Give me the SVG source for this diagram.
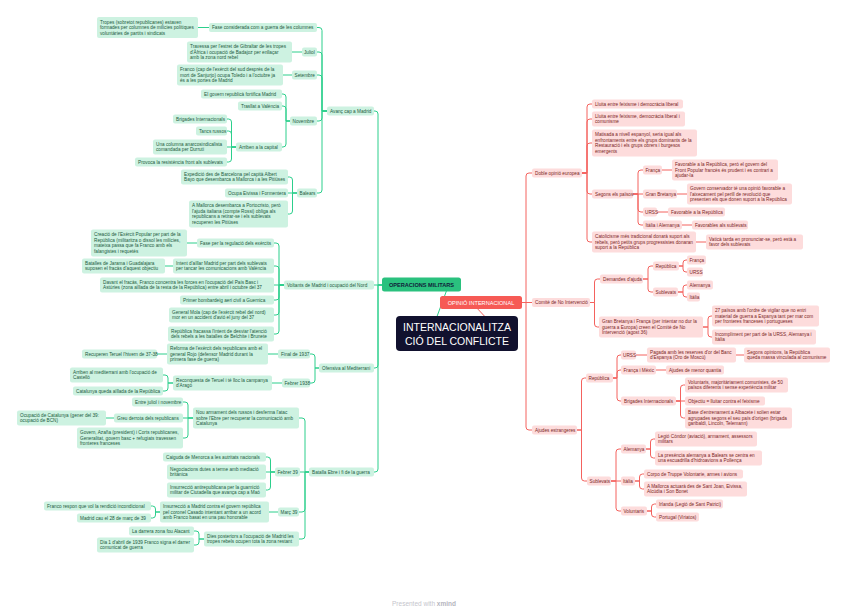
<svg xmlns="http://www.w3.org/2000/svg" width="848" height="615" viewBox="0 0 848 615">
<style>
text{font-family:"Liberation Sans",Arial,sans-serif;font-size:4.7px}
.g rect{fill:#cdf2e1}
.g text{fill:#1c5a3e}
.r rect{fill:#fddcdc}
.r text{fill:#7b2525}
.cg path{fill:none;stroke:#2ccf8c;stroke-width:1}
.cr path{fill:none;stroke:#f4625e;stroke-width:1}
</style>
<rect width="848" height="615" fill="#ffffff"/>
<g id="connectors">
<g class="cg">
<path d="M432 330 L449 284"/>
<path d="M382 285 H378 V114 Q378 111 375 111 H374"/>
<path d="M382 285 H374"/>
<path d="M382 285 H378 V365 Q378 368 375 368 H374"/>
<path d="M382 285 H378 V469 Q378 472 375 472 H374"/>
<path d="M327 111 H322 V30.5 Q322 27.5 319 27.5 H317"/>
<path d="M327 111 H322 V55 Q322 52 319 52 H317"/>
<path d="M327 111 H322 V78 Q322 75 319 75 H317"/>
<path d="M327 111 H322 V118 Q322 121 319 121 H317"/>
<path d="M327 111 H322 V190 Q322 193 319 193 H317"/>
<path d="M209 27.5 H198"/>
<path d="M302 52 H292"/>
<path d="M292 75 H283"/>
<path d="M290 121 H286 V97 Q286 94 283 94 H282"/>
<path d="M290 121 H286 V109 Q286 106 283 106 H282"/>
<path d="M290 121 H286 V144 Q286 147 283 147 H282"/>
<path d="M236 147 H231.5 V122 Q231.5 119 228.5 119 H227"/>
<path d="M236 147 H231.5 V134 Q231.5 131 228.5 131 H227"/>
<path d="M236 147 H227"/>
<path d="M236 147 H231.5 V159 Q231.5 162 228.5 162 H227"/>
<path d="M297 193 H292.5 V180 Q292.5 177 289.5 177 H288"/>
<path d="M297 193 H288"/>
<path d="M297 193 H292.5 V211 Q292.5 214 289.5 214 H288"/>
<path d="M284 285 H279 V246 Q279 243 276 243 H274"/>
<path d="M284 285 H279 V269 Q279 266 276 266 H274"/>
<path d="M284 285 H274"/>
<path d="M284 285 H279 V297 Q279 300 276 300 H274"/>
<path d="M284 285 H279 V312 Q279 315 276 315 H274"/>
<path d="M284 285 H279 V331 Q279 334 276 334 H274"/>
<path d="M197 243 H187"/>
<path d="M173 266 H165"/>
<path d="M319 368 H315 V357 Q315 354 312 354 H310"/>
<path d="M319 368 H315 V380 Q315 383 312 383 H310"/>
<path d="M278 354 H268"/>
<path d="M167 354 H157"/>
<path d="M282 383 H272"/>
<path d="M173 383 H168 V378 Q168 375 165 375 H163"/>
<path d="M173 383 H168 V388 Q168 391 165 391 H163"/>
<path d="M309 472 H305 V421 Q305 418 302 418 H299"/>
<path d="M309 472 H300"/>
<path d="M309 472 H305 V509 Q305 512 302 512 H299"/>
<path d="M309 472 H305 V536 Q305 539 302 539 H299"/>
<path d="M193 418 H188 V405 Q188 402 185 402 H183"/>
<path d="M193 418 H183"/>
<path d="M193 418 H188 V435 Q188 438 185 438 H183"/>
<path d="M114 418 H106"/>
<path d="M275 472 H270.5 V460 Q270.5 457 267.5 457 H266"/>
<path d="M275 472 H266"/>
<path d="M275 472 H270.5 V487 Q270.5 490 267.5 490 H266"/>
<path d="M278 512 H269"/>
<path d="M160 512 H155.5 V509 Q155.5 506 152.5 506 H151"/>
<path d="M160 512 H155.5 V515 Q155.5 518 152.5 518 H151"/>
<path d="M204 539 H199 V534 Q199 531 196 531 H194"/>
<path d="M204 539 H199 V542 Q199 545 196 545 H194"/>
</g>
<g class="cr">
<path d="M490 322 L474 305"/>
<path d="M522 302.5 H526 V176 Q526 173 529 173 H532"/>
<path d="M522 302.5 H532"/>
<path d="M522 302.5 H526 V427 Q526 430 529 430 H532"/>
<path d="M582 173 H587 V107 Q587 104 590 104 H592"/>
<path d="M582 173 H587 V122 Q587 119 590 119 H592"/>
<path d="M582 173 H587 V146 Q587 143 590 143 H592"/>
<path d="M582 173 H587 V191 Q587 194 590 194 H592"/>
<path d="M582 173 H587 V239 Q587 242 590 242 H592"/>
<path d="M633 194 H638 V173 Q638 170 641 170 H643"/>
<path d="M633 194 H643"/>
<path d="M633 194 H638 V209 Q638 212 641 212 H643"/>
<path d="M633 194 H638 V222 Q638 225 641 225 H643"/>
<path d="M662 170 H672"/>
<path d="M677 194 H687"/>
<path d="M657 212 H668"/>
<path d="M682 225 H692"/>
<path d="M696 242 H706"/>
<path d="M590 302.5 H594.5 V282 Q594.5 279 597.5 279 H600"/>
<path d="M590 302.5 H594.5 V324 Q594.5 327 597.5 327 H599"/>
<path d="M643 279 H648 V269 Q648 266 651 266 H653"/>
<path d="M643 279 H648 V289 Q648 292 651 292 H653"/>
<path d="M679 266 H683 V263 Q683 260 686 260 H687"/>
<path d="M679 266 H683 V269 Q683 272 686 272 H687"/>
<path d="M678 292 H683 V288 Q683 285 686 285 H687"/>
<path d="M678 292 H683 V294 Q683 297 686 297 H687"/>
<path d="M703 327 H708 V319 Q708 316 711 316 H712"/>
<path d="M703 327 H708 V334 Q708 337 711 337 H712"/>
<path d="M577 430 H581.5 V381 Q581.5 378 584.5 378 H586"/>
<path d="M577 430 H581.5 V478 Q581.5 481 584.5 481 H587"/>
<path d="M613 378 H617 V358 Q617 355 620 355 H621"/>
<path d="M613 378 H617 V373 Q617 370 620 370 H621"/>
<path d="M613 378 H617 V398 Q617 401 620 401 H621"/>
<path d="M636 355 H647"/>
<path d="M736 355 H744"/>
<path d="M656 370 H666"/>
<path d="M676 401 H680.5 V388 Q680.5 385 683.5 385 H685"/>
<path d="M676 401 H685"/>
<path d="M676 401 H680.5 V415 Q680.5 418 683.5 418 H685"/>
<path d="M611 481 H616 V452 Q616 449 619 449 H621"/>
<path d="M611 481 H621"/>
<path d="M611 481 H616 V508 Q616 511 619 511 H621"/>
<path d="M646 449 H650.5 V442 Q650.5 439 653.5 439 H655"/>
<path d="M646 449 H650.5 V455 Q650.5 458 653.5 458 H655"/>
<path d="M635 481 H639.5 V477 Q639.5 474 642.5 474 H644"/>
<path d="M635 481 H639.5 V486 Q639.5 489 642.5 489 H644"/>
<path d="M647 511 H651.5 V507 Q651.5 504 654.5 504 H656"/>
<path d="M647 511 H651.5 V514 Q651.5 517 654.5 517 H656"/>
</g>
</g>

<g id="root">
<rect x="396" y="316" width="122" height="35" rx="4" fill="#11112e"/>
<text x="457" y="331" text-anchor="middle" fill="#ffffff" style="font-size:10.5px">INTERNACIONALITZA</text>
<text x="457" y="344.5" text-anchor="middle" fill="#ffffff" style="font-size:10.5px">CIÓ DEL CONFLICTE</text>
</g>
<g id="operacions">
<rect x="382" y="277.5" width="79" height="14" rx="2.5" fill="#2ac17e"/>
<text x="421.5" y="286.8" text-anchor="middle" fill="#10213a" style="font-size:5.6px;font-weight:bold">OPERACIONS MILITARS</text>
</g>
<g id="opinio">
<rect x="440" y="296" width="82" height="13" rx="2.5" fill="#f65a55"/>
<text x="481" y="304.6" text-anchor="middle" fill="#ffffff" style="font-size:5.6px">OPINIÓ INTERNACIONAL</text>
</g>

<g id="g1" class="g"><rect x="327" y="106.5" width="47" height="9" rx="2"/><text x="330" y="112.6">Avanç cap a Madrid</text></g>
<g id="g2" class="g"><rect x="284" y="280.5" width="90" height="9" rx="2"/><text x="287" y="286.6">Voltants de Madrid i ocupació del Nord</text></g>
<g id="g3" class="g"><rect x="319" y="363.5" width="55" height="9" rx="2"/><text x="322" y="369.6">Ofensiva al Mediterrani</text></g>
<g id="g4" class="g"><rect x="309" y="467.5" width="65" height="9" rx="2"/><text x="312" y="473.6">Batalla Ebre i fi de la guerra</text></g>
<g id="g5" class="g"><rect x="209" y="23" width="108" height="9" rx="2"/><text x="212" y="29.1">Fase considerada com a guerra de les columnes</text></g>
<g id="g6" class="g"><rect x="97" y="17" width="101" height="21" rx="2"/><text x="100" y="23.5">Tropes (sobretot republicanes) estaven<tspan x="100" dy="5.6">formades per columnes de milícies polítiques</tspan><tspan x="100" dy="5.6">voluntàries de partits i sindicats</tspan></text></g>
<g id="g7" class="g"><rect x="302" y="47.5" width="15" height="9" rx="2"/><text x="304" y="53.6">Juliol</text></g>
<g id="g8" class="g"><rect x="187" y="41.5" width="105" height="21" rx="2"/><text x="190" y="48">Travessa per l'estret de Gibraltar de les tropes<tspan x="190" dy="5.6">d'Àfrica i ocupació de Badajoz per enllaçar</tspan><tspan x="190" dy="5.6">amb la zona nord rebel</tspan></text></g>
<g id="g9" class="g"><rect x="292" y="70.5" width="25" height="9" rx="2"/><text x="294.5" y="76.6">Setembre</text></g>
<g id="g10" class="g"><rect x="177" y="64.5" width="106" height="21" rx="2"/><text x="180" y="71">Franco (cap de l'exèrcit del sud després de la<tspan x="180" dy="5.6">mort de Sanjurjo) ocupa Toledo i a l'octubre ja</tspan><tspan x="180" dy="5.6">és a les portes de Madrid</tspan></text></g>
<g id="g11" class="g"><rect x="290" y="116.5" width="27" height="9" rx="2"/><text x="292.5" y="122.6">Novembre</text></g>
<g id="g12" class="g"><rect x="201" y="89.5" width="81" height="9" rx="2"/><text x="204" y="95.6">El govern republicà fortifica Madrid</text></g>
<g id="g13" class="g"><rect x="238" y="101.5" width="44" height="9" rx="2"/><text x="241" y="107.6">Trasllat a València</text></g>
<g id="g14" class="g"><rect x="236" y="142.5" width="46" height="9" rx="2"/><text x="239" y="148.6">Arriben a la capital</text></g>
<g id="g15" class="g"><rect x="173" y="114.5" width="54" height="9" rx="2"/><text x="176" y="120.6">Brigades Internacionals</text></g>
<g id="g16" class="g"><rect x="196" y="126.5" width="31" height="9" rx="2"/><text x="199" y="132.6">Tancs russos</text></g>
<g id="g17" class="g"><rect x="153" y="139.5" width="74" height="15" rx="2"/><text x="156" y="145.8">Una columna anarcosindicalista<tspan x="156" dy="5.6">comandada per Durruti</tspan></text></g>
<g id="g18" class="g"><rect x="135" y="157.5" width="92" height="9" rx="2"/><text x="138" y="163.6">Provoca la resistència front als sublevats</text></g>
<g id="g19" class="g"><rect x="297" y="188.5" width="20" height="9" rx="2"/><text x="299.5" y="194.6">Balears</text></g>
<g id="g20" class="g"><rect x="181" y="169.5" width="107" height="15" rx="2"/><text x="184" y="175.8">Expedició des de Barcelona pel capità Albert<tspan x="184" dy="5.6">Bayo que desembarca a Mallorca i a les Pitiüses</tspan></text></g>
<g id="g21" class="g"><rect x="225" y="188.5" width="63" height="9" rx="2"/><text x="228" y="194.6">Ocupa Eivissa i Formentera</text></g>
<g id="g22" class="g"><rect x="189" y="200.5" width="99" height="27" rx="2"/><text x="192" y="207.2">A Mallorca desembarca a Portocristo, però<tspan x="192" dy="5.6">l'ajuda italiana (compte Rossi) obliga als</tspan><tspan x="192" dy="5.6">republicans a retirar-se i els sublevats</tspan><tspan x="192" dy="5.6">recuperen les Pitiüses</tspan></text></g>
<g id="g23" class="g"><rect x="197" y="238.5" width="77" height="9" rx="2"/><text x="200" y="244.6">Fase per la regulació dels exèrcits</text></g>
<g id="g24" class="g"><rect x="91" y="229.5" width="96" height="27" rx="2"/><text x="94" y="236.2">Creació de l'Exèrcit Popular per part de la<tspan x="94" dy="5.6">República (militaritza o dissol les milícies,</tspan><tspan x="94" dy="5.6">mateixa passa que fa Franco amb els</tspan><tspan x="94" dy="5.6">falangistes i requetès</tspan></text></g>
<g id="g25" class="g"><rect x="173" y="258.5" width="101" height="15" rx="2"/><text x="176" y="264.8">Intent d'aïllar Madrid per part dels sublevats<tspan x="176" dy="5.6">per tancar les comunicacions amb València</tspan></text></g>
<g id="g26" class="g"><rect x="82" y="258.5" width="83" height="15" rx="2"/><text x="85" y="264.8">Batalles de Jarama i Guadalajara<tspan x="85" dy="5.6">suposen el fracàs d'aquest objectiu</tspan></text></g>
<g id="g27" class="g"><rect x="100" y="277.5" width="174" height="15" rx="2"/><text x="103" y="283.8">Davant el fracàs, Franco concentra les forces en l'ocupació del País Basc i<tspan x="103" dy="5.6">Astúries (zona aïllada de la resta de la República) entre abril i octubre del 37</tspan></text></g>
<g id="g28" class="g"><rect x="180" y="295.5" width="94" height="9" rx="2"/><text x="183" y="301.6">Primer bombardeig aeri civil a Guernica</text></g>
<g id="g29" class="g"><rect x="169" y="307.5" width="105" height="15" rx="2"/><text x="172" y="313.8">General Mola (cap de l'exèrcit rebel del nord)<tspan x="172" dy="5.6">mor en un accident d'avió el juny del 37</tspan></text></g>
<g id="g30" class="g"><rect x="168" y="326.5" width="106" height="15" rx="2"/><text x="171" y="332.8">República fracassa l'intent de desviar l'atenció<tspan x="171" dy="5.6">dels rebels a les batalles de Belchite i Brunete</tspan></text></g>
<g id="g31" class="g"><rect x="278" y="349.5" width="32" height="9" rx="2"/><text x="281" y="355.6">Final de 1937</text></g>
<g id="g32" class="g"><rect x="167" y="343.5" width="101" height="21" rx="2"/><text x="170" y="350">Reforma de l'exèrcit dels republicans amb el<tspan x="170" dy="5.6">general Rojo (defensor Madrid durant la</tspan><tspan x="170" dy="5.6">primera fase de guerra)</tspan></text></g>
<g id="g33" class="g"><rect x="82" y="349.5" width="75" height="9" rx="2"/><text x="85" y="355.6">Recuperen Teruel l'hivern de 37-38</text></g>
<g id="g34" class="g"><rect x="282" y="378.5" width="28" height="9" rx="2"/><text x="284.5" y="384.6">Febrer 1938</text></g>
<g id="g35" class="g"><rect x="173" y="375.5" width="99" height="15" rx="2"/><text x="176" y="381.8">Reconquesta de Teruel i té lloc la campanya<tspan x="176" dy="5.6">d'Aragó</tspan></text></g>
<g id="g36" class="g"><rect x="70" y="367.5" width="93" height="15" rx="2"/><text x="73" y="373.8">Arriben al mediterrani amb l'ocupació de<tspan x="73" dy="5.6">Castelló</tspan></text></g>
<g id="g37" class="g"><rect x="73" y="386.5" width="90" height="9" rx="2"/><text x="76" y="392.6">Catalunya queda aïllada de la República</text></g>
<g id="g38" class="g"><rect x="193" y="407.5" width="106" height="21" rx="2"/><text x="196" y="414">Nou armament dels russos i desferma l'atac<tspan x="196" dy="5.6">sobre l'Ebre per recuperar la comunicació amb</tspan><tspan x="196" dy="5.6">Catalunya</tspan></text></g>
<g id="g39" class="g"><rect x="132" y="397.5" width="51" height="9" rx="2"/><text x="135" y="403.6">Entre juliol i novembre</text></g>
<g id="g40" class="g"><rect x="114" y="413.5" width="69" height="9" rx="2"/><text x="117" y="419.6">Greu derrota dels republicans</text></g>
<g id="g41" class="g"><rect x="17" y="410.5" width="89" height="15" rx="2"/><text x="20" y="416.8">Ocupació de Catalunya (gener del 39:<tspan x="20" dy="5.6">ocupació de BCN)</tspan></text></g>
<g id="g42" class="g"><rect x="77" y="427.5" width="106" height="21" rx="2"/><text x="80" y="434">Govern, Azaña (president) i Corts republicanes,<tspan x="80" dy="5.6">Generalitat, govern basc + refugiats travessen</tspan><tspan x="80" dy="5.6">fronteres franceses</tspan></text></g>
<g id="g43" class="g"><rect x="275" y="467.5" width="25" height="9" rx="2"/><text x="277.5" y="473.6">Febrer 39</text></g>
<g id="g44" class="g"><rect x="163" y="452.5" width="103" height="9" rx="2"/><text x="166" y="458.6">Caiguda de Menorca a les autritats nacionals</text></g>
<g id="g45" class="g"><rect x="167" y="464.5" width="99" height="15" rx="2"/><text x="170" y="470.8">Negociacions dutes a terme amb mediació<tspan x="170" dy="5.6">britànica</tspan></text></g>
<g id="g46" class="g"><rect x="167" y="482.5" width="99" height="15" rx="2"/><text x="170" y="488.8">Insurrecció antirepublicana per la guarnició<tspan x="170" dy="5.6">militar de Ciutadella que avança cap a Maó</tspan></text></g>
<g id="g47" class="g"><rect x="278" y="507.5" width="21" height="9" rx="2"/><text x="280.5" y="513.6">Març 39</text></g>
<g id="g48" class="g"><rect x="160" y="501.5" width="109" height="21" rx="2"/><text x="163" y="508">Insurrecció a Madrid contra el govern república<tspan x="163" dy="5.6">pel coronel Casado intentant arribar a un acord</tspan><tspan x="163" dy="5.6">amb Franco basat en una pau honorable</tspan></text></g>
<g id="g49" class="g"><rect x="44" y="501.5" width="107" height="9" rx="2"/><text x="47" y="507.6">Franco respon que vol la rendició incondicional</text></g>
<g id="g50" class="g"><rect x="77" y="513.5" width="74" height="9" rx="2"/><text x="80" y="519.6">Madrid cau el 28 de març de 39</text></g>
<g id="g51" class="g"><rect x="204" y="531.5" width="95" height="15" rx="2"/><text x="207" y="537.8">Dies posteriors a l'ocupació de Madrid les<tspan x="207" dy="5.6">tropes rebels ocupen tota la zona restant</tspan></text></g>
<g id="g52" class="g"><rect x="129" y="526.5" width="65" height="9" rx="2"/><text x="132" y="532.6">La darrera zona fou Alacant</text></g>
<g id="g53" class="g"><rect x="97" y="537.5" width="97" height="15" rx="2"/><text x="100" y="543.8">Dia 1 d'abril de 1939 Franco signa el darrer<tspan x="100" dy="5.6">comunicat de guerra</tspan></text></g>

<g id="r1" class="r"><rect x="532" y="168.5" width="50" height="9" rx="2"/><text x="535" y="174.6">Doble opinió europea</text></g>
<g id="r2" class="r"><rect x="532" y="298" width="58" height="9" rx="2"/><text x="535" y="304.1">Comitè de No Intervenció</text></g>
<g id="r3" class="r"><rect x="532" y="425.5" width="45" height="9" rx="2"/><text x="535" y="431.6">Ajudes estrangeres</text></g>
<g id="r4" class="r"><rect x="592" y="99.5" width="91" height="9" rx="2"/><text x="595" y="105.6">Lluita entre feixisme i democràcia liberal</text></g>
<g id="r5" class="r"><rect x="592" y="111.5" width="93" height="15" rx="2"/><text x="595" y="117.8">Lluita entre feixisme, democràcia liberal i<tspan x="595" dy="5.6">comunisme</tspan></text></g>
<g id="r6" class="r"><rect x="592" y="129.5" width="105" height="27" rx="2"/><text x="595" y="136.2">Matisada a nivell espanyol, seria igual als<tspan x="595" dy="5.6">enfrontaments entre els grups dominants de la</tspan><tspan x="595" dy="5.6">Restauració i els grups obrers i burgesos</tspan><tspan x="595" dy="5.6">emergents</tspan></text></g>
<g id="r7" class="r"><rect x="592" y="189.5" width="41" height="9" rx="2"/><text x="595" y="195.6">Segons els països</text></g>
<g id="r8" class="r"><rect x="643" y="165.5" width="19" height="9" rx="2"/><text x="645.5" y="171.6">França</text></g>
<g id="r9" class="r"><rect x="672" y="159.5" width="106" height="21" rx="2"/><text x="675" y="166">Favorable a la República, però el govern del<tspan x="675" dy="5.6">Front Popular francès és prudent i es contrari a</tspan><tspan x="675" dy="5.6">ajudar-la</tspan></text></g>
<g id="r10" class="r"><rect x="643" y="189.5" width="34" height="9" rx="2"/><text x="645.5" y="195.6">Gran Bretanya</text></g>
<g id="r11" class="r"><rect x="687" y="183.5" width="105" height="21" rx="2"/><text x="690" y="190">Govern conservador té una opinió favorable a<tspan x="690" dy="5.6">l'aixecament pel perill de revolució que</tspan><tspan x="690" dy="5.6">presenten els que donen suport a la República</tspan></text></g>
<g id="r12" class="r"><rect x="643" y="207.5" width="14" height="9" rx="2"/><text x="645" y="213.6">URSS</text></g>
<g id="r13" class="r"><rect x="668" y="207.5" width="57" height="9" rx="2"/><text x="671" y="213.6">Favorable a la República</text></g>
<g id="r14" class="r"><rect x="643" y="220.5" width="39" height="9" rx="2"/><text x="645.5" y="226.6">Itàlia i Alemanya</text></g>
<g id="r15" class="r"><rect x="692" y="220.5" width="56" height="9" rx="2"/><text x="695" y="226.6">Favorables als sublevats</text></g>
<g id="r16" class="r"><rect x="592" y="231.5" width="104" height="21" rx="2"/><text x="595" y="238">Catolicisme més tradicional donarà suport als<tspan x="595" dy="5.6">rebels, però petits grups progressistes donaran</tspan><tspan x="595" dy="5.6">suport a la República</tspan></text></g>
<g id="r17" class="r"><rect x="706" y="234.5" width="97" height="15" rx="2"/><text x="709" y="240.8">Vaticà tarda en pronunciar-se, però està a<tspan x="709" dy="5.6">favor dels sublevats</tspan></text></g>
<g id="r18" class="r"><rect x="600" y="274.5" width="43" height="9" rx="2"/><text x="603" y="280.6">Demandes d'ajuda</text></g>
<g id="r19" class="r"><rect x="653" y="261.5" width="26" height="9" rx="2"/><text x="655.5" y="267.6">República</text></g>
<g id="r20" class="r"><rect x="687" y="255.5" width="19" height="9" rx="2"/><text x="689.5" y="261.6">França</text></g>
<g id="r21" class="r"><rect x="687" y="267.5" width="16" height="9" rx="2"/><text x="689.5" y="273.6">URSS</text></g>
<g id="r22" class="r"><rect x="653" y="287.5" width="25" height="9" rx="2"/><text x="655.5" y="293.6">Sublevats</text></g>
<g id="r23" class="r"><rect x="687" y="280.5" width="26" height="9" rx="2"/><text x="689.5" y="286.6">Alemanya</text></g>
<g id="r24" class="r"><rect x="687" y="292.5" width="13" height="9" rx="2"/><text x="689.5" y="298.6">Itàlia</text></g>
<g id="r25" class="r"><rect x="599" y="316.5" width="104" height="21" rx="2"/><text x="602" y="323">Gran Bretanya i França (per intentar no dur la<tspan x="602" dy="5.6">guerra a Europa) creen el Comitè de No</tspan><tspan x="602" dy="5.6">Intervenció (agost 36)</tspan></text></g>
<g id="r26" class="r"><rect x="712" y="305.5" width="107" height="21" rx="2"/><text x="715" y="312">27 països amb l'ordre de vigilar que no entri<tspan x="715" dy="5.6">material de guerra a Espanya tant per mar com</tspan><tspan x="715" dy="5.6">per fronteres franceses i portugueses</tspan></text></g>
<g id="r27" class="r"><rect x="712" y="329.5" width="104" height="15" rx="2"/><text x="715" y="335.8">Incompliment per part de la URSS, Alemanya i<tspan x="715" dy="5.6">Itàlia</tspan></text></g>
<g id="r28" class="r"><rect x="586" y="373.5" width="27" height="9" rx="2"/><text x="588.5" y="379.6">República</text></g>
<g id="r29" class="r"><rect x="621" y="350.5" width="15" height="9" rx="2"/><text x="623" y="356.6">URSS</text></g>
<g id="r30" class="r"><rect x="647" y="347.5" width="89" height="15" rx="2"/><text x="650" y="353.8">Pagada amb les reserves d'or del Banc<tspan x="650" dy="5.6">d'Espanya (Oro de Moscú)</tspan></text></g>
<g id="r31" class="r"><rect x="744" y="347.5" width="86" height="15" rx="2"/><text x="747" y="353.8">Segons opinions, la República<tspan x="747" dy="5.6">queda massa vinculada al comunisme</tspan></text></g>
<g id="r32" class="r"><rect x="621" y="365.5" width="35" height="9" rx="2"/><text x="623.5" y="371.6">França i Mèxic</text></g>
<g id="r33" class="r"><rect x="666" y="365.5" width="58" height="9" rx="2"/><text x="669" y="371.6">Ajudes de menor quantia</text></g>
<g id="r34" class="r"><rect x="621" y="396.5" width="55" height="9" rx="2"/><text x="624" y="402.6">Brigades Internacionals</text></g>
<g id="r35" class="r"><rect x="685" y="377.5" width="103" height="15" rx="2"/><text x="688" y="383.8">Voluntaris, majoritàriament comunistes, de 50<tspan x="688" dy="5.6">països diferents i sense experiència militar</tspan></text></g>
<g id="r36" class="r"><rect x="685" y="396.5" width="80" height="9" rx="2"/><text x="688" y="402.6">Objectiu = lluitar contra el feixisme</text></g>
<g id="r37" class="r"><rect x="685" y="407.5" width="107" height="21" rx="2"/><text x="688" y="414">Base d'entrenament a Albacete i solien estar<tspan x="688" dy="5.6">agrupades segons el seu país d'origen (brigada</tspan><tspan x="688" dy="5.6">garibaldi, Lincoln, Telemann)</tspan></text></g>
<g id="r38" class="r"><rect x="587" y="476.5" width="24" height="9" rx="2"/><text x="589.5" y="482.6">Sublevats</text></g>
<g id="r39" class="r"><rect x="621" y="444.5" width="25" height="9" rx="2"/><text x="623.5" y="450.6">Alemanya</text></g>
<g id="r40" class="r"><rect x="655" y="431.5" width="102" height="15" rx="2"/><text x="658" y="437.8">Legió Còndor (aviació), armament, assessors<tspan x="658" dy="5.6">militars</tspan></text></g>
<g id="r41" class="r"><rect x="655" y="450.5" width="107" height="15" rx="2"/><text x="658" y="456.8">La presència alemanya a Balears se centra en<tspan x="658" dy="5.6">una escuadrilla d'hidroavions a Pollença</tspan></text></g>
<g id="r42" class="r"><rect x="621" y="476.5" width="14" height="9" rx="2"/><text x="623" y="482.6">Itàlia</text></g>
<g id="r43" class="r"><rect x="644" y="469.5" width="99" height="9" rx="2"/><text x="647" y="475.6">Corpo de Truppe Volontarie, armes i avions</text></g>
<g id="r44" class="r"><rect x="644" y="481.5" width="103" height="15" rx="2"/><text x="647" y="487.8">A Mallorca actuarà des de Sant Joan, Eivissa,<tspan x="647" dy="5.6">Alcúdia i Son Bonet</tspan></text></g>
<g id="r45" class="r"><rect x="621" y="506.5" width="26" height="9" rx="2"/><text x="623.5" y="512.6">Voluntaris</text></g>
<g id="r46" class="r"><rect x="656" y="499.5" width="67" height="9" rx="2"/><text x="659" y="505.6">Irlanda (Legió de Sant Patrici)</text></g>
<g id="r47" class="r"><rect x="656" y="512.5" width="43" height="9" rx="2"/><text x="659" y="518.6">Portugal (Viriatos)</text></g>

<text x="424" y="606" text-anchor="middle" fill="#c5c5cc" style="font-size:6.5px">Presented with <tspan font-weight="bold" fill="#b5b5be">xmind</tspan></text>
</svg>
